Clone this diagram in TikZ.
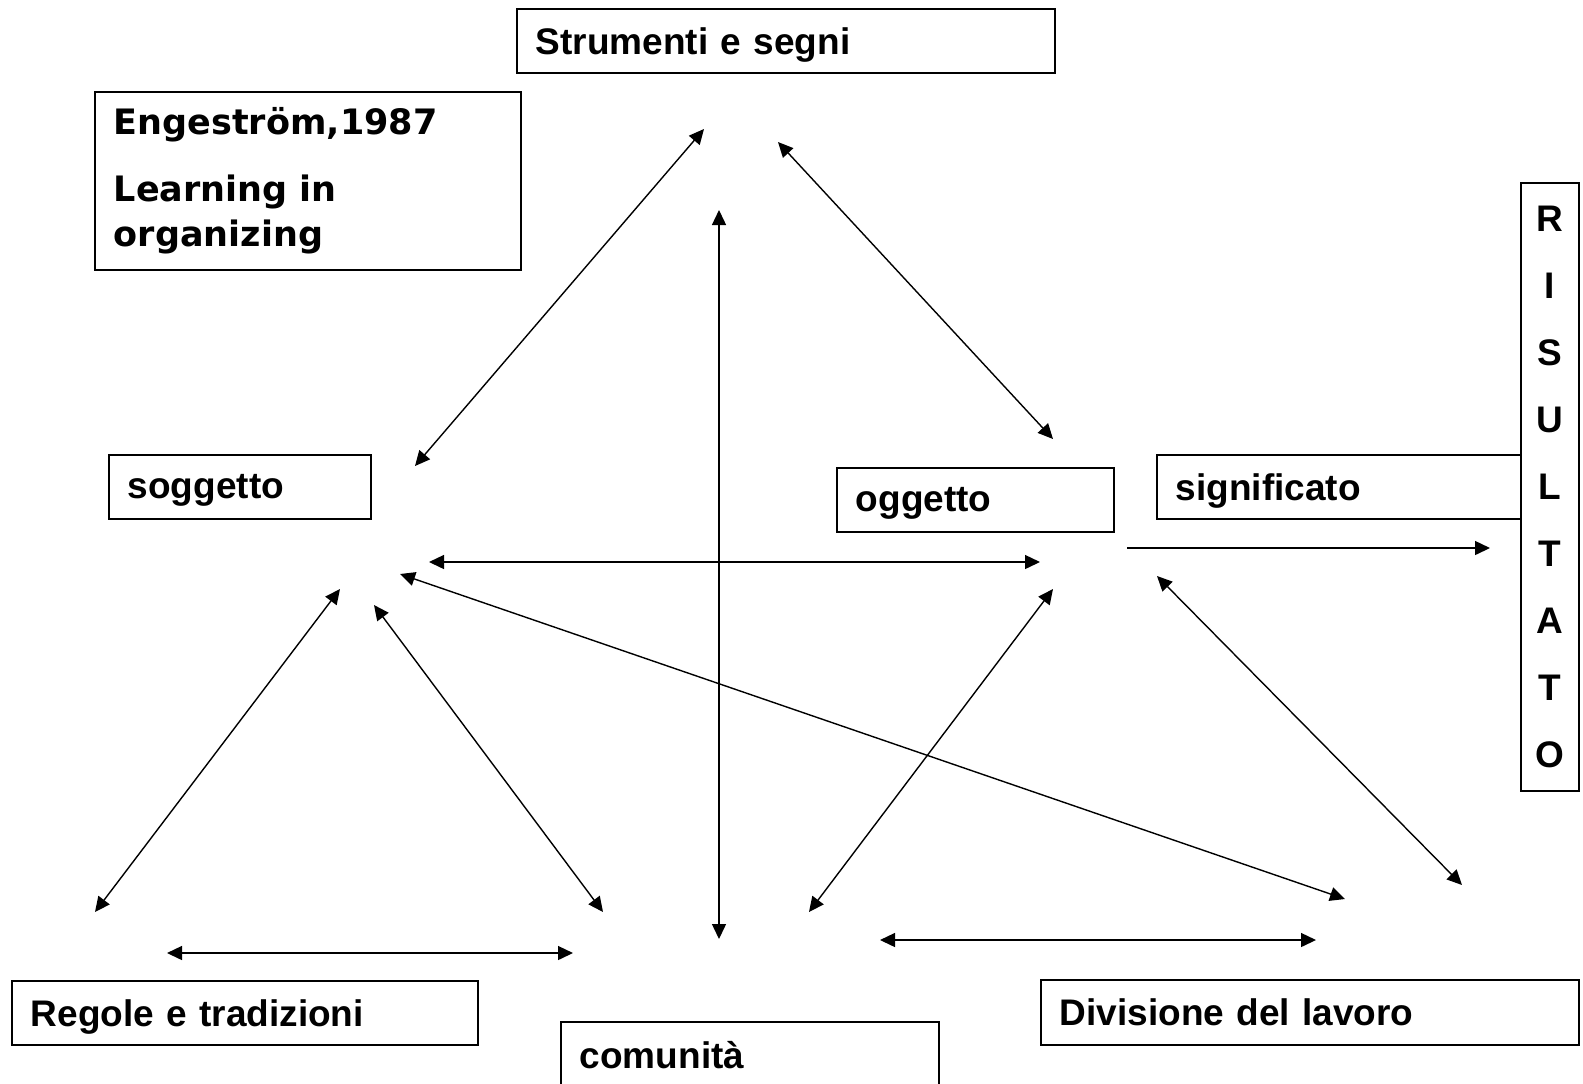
\documentclass[tikz,border=0pt]{standalone}
\usepackage{fontspec}
\setmainfont{Liberation Sans}
\newfontfamily\verdfont{DejaVu Sans}
\usetikzlibrary{arrows.meta}

\tikzset{
  box/.style={draw,line width=0.8pt,anchor=north west,inner xsep=9.5pt,inner ysep=0pt,
    align=left,font=\fontsize{18.5}{22}\selectfont\bfseries},
  linebox/.style={box,text depth=0pt},
  link/.style={line width=0.7pt,{Triangle[length=7.5pt,width=7pt]}-{Triangle[length=7.5pt,width=7pt]}},
  onelink/.style={line width=0.7pt,-{Triangle[length=7.5pt,width=7pt]}}
}

\begin{document}
\begin{tikzpicture}[x=0.5pt,y=-0.5pt]
  \clip (0,0) rectangle (1583,1083);
  \fill[white] (0,0) rectangle (1583,1083);

  % boxes
  \node[linebox,text width=250pt,minimum height=32pt] (strum) at (516,8) {Strumenti e segni};
  \node[box,text width=194pt,minimum height=89pt,font=\verdfont\fontsize{17.5}{22.5}\selectfont\bfseries]
    (eng) at (94,91) {Engeström,1987\\[11pt]Learning in\\organizing};
  \node[linebox,text width=112pt,minimum height=32pt] (sogg) at (108,454) {soggetto};
  \node[linebox,text width=119.5pt,minimum height=32pt] (ogg) at (836,467) {oggetto};
  \node[linebox,text width=163pt,minimum height=32pt] (signif) at (1156,454) {significato};
  \node[box,inner xsep=0pt,text width=29pt,minimum height=304pt,align=center,
    font=\fontsize{18.5}{33.5}\selectfont\bfseries]
    (ris) at (1520,182) {R\\I\\S\\U\\L\\T\\A\\T\\O};
  \node[linebox,text width=214pt,minimum height=32pt] (regole) at (11,980) {Regole e tradizioni};
  \node[linebox,text width=170pt,minimum height=33pt] (comun) at (560,1021) {comunità};
  \node[linebox,text width=250pt,minimum height=32.5pt] (divis) at (1040,979) {Divisione del lavoro};

  % arrow ends
  \coordinate (strumL) at (704,129);
  \coordinate (strumR) at (778,142);
  \coordinate (strumB) at (719,210);
  \coordinate (soggT) at (415,466);
  \coordinate (soggR) at (429,562);
  \coordinate (soggD) at (400,574);
  \coordinate (soggB1) at (340,589);
  \coordinate (soggB2) at (374,605);
  \coordinate (oggT) at (1053,439);
  \coordinate (oggL) at (1040,562);
  \coordinate (oggB) at (1053,589);
  \coordinate (oggR) at (1157,576);
  \coordinate (risIn) at (1127,548);
  \coordinate (risOut) at (1490,548);
  \coordinate (regT) at (95,912);
  \coordinate (regL) at (167,953);
  \coordinate (regR) at (573,953);
  \coordinate (comT) at (719,939);
  \coordinate (comL) at (603,912);
  \coordinate (comR) at (809,912);
  \coordinate (divL) at (880,940);
  \coordinate (divR) at (1316,940);
  \coordinate (divT1) at (1345,899);
  \coordinate (divT2) at (1462,885);

  % arrows
  \foreach \a/\b in {strumL/soggT, strumR/oggT, strumB/comT, soggR/oggL,
      soggB1/regT, soggB2/comL, soggD/divT1, oggB/comR, oggR/divT2,
      regL/regR, divL/divR} {
    \draw[link] (\a) -- (\b);
  }
  \draw[onelink] (risIn) -- (risOut);
\end{tikzpicture}
\end{document}
